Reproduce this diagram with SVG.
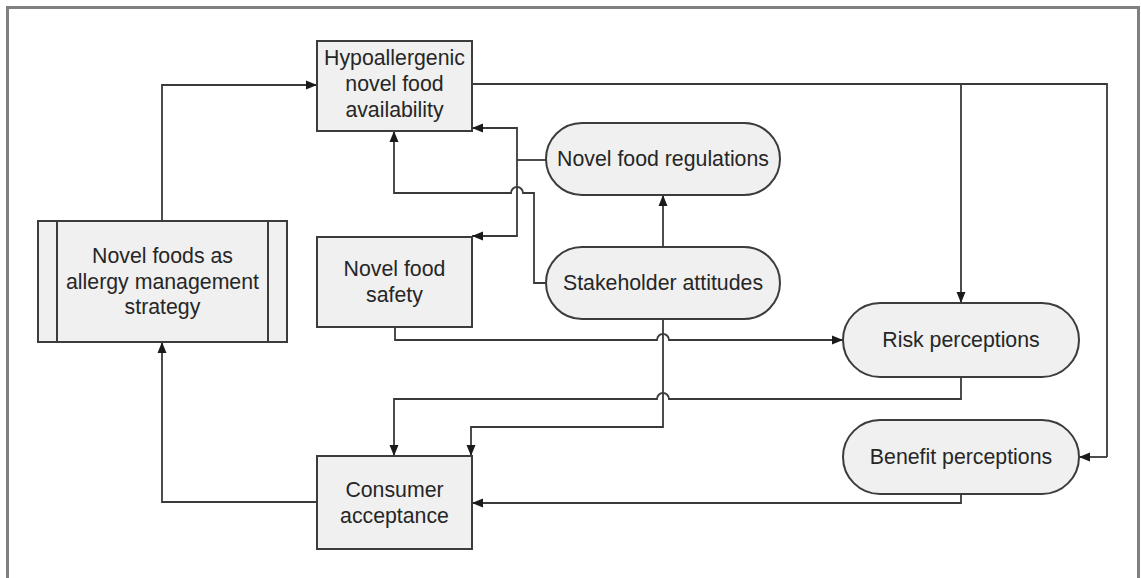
<svg xmlns="http://www.w3.org/2000/svg" width="1141" height="578" viewBox="0 0 1141 578">
<defs>
<marker id="arr" markerUnits="userSpaceOnUse" markerWidth="12" markerHeight="10" refX="11" refY="5" orient="auto">
<path d="M0,0.5 L11,5 L0,9.5 z" fill="#1a1a1a"/>
</marker>
<style>
.box{fill:#f0f0f0;stroke:#3c3c3c;stroke-width:2}
.ln{fill:none;stroke:#3c3c3c;stroke-width:2}
.c{fill:none;stroke:#3a3a3a;stroke-width:1.8;marker-end:url(#arr)}
.cn{fill:none;stroke:#3a3a3a;stroke-width:1.8}
text{font-family:"Liberation Sans",Arial,sans-serif;font-size:21.3px;fill:#262626;text-anchor:middle}
</style>
</defs>
<rect x="0" y="0" width="1141" height="578" fill="#ffffff"/>
<rect x="7.5" y="7.5" width="1131" height="620" fill="none" stroke="#808080" stroke-width="3"/>

<g id="connectors">
<path class="c" d="M162,221 V85 H317"/>
<path class="cn" d="M472,84 H1107 V457"/>
<path class="c" d="M961,84 V303"/>
<path class="c" d="M1107,457 H1079"/>
<path class="cn" d="M546,160 H517"/>
<path class="c" d="M517,160 V128 H472"/>
<path class="c" d="M517,160 V236 H472"/>
<path class="c" d="M546,283 H534 V193 H523 A6,6 0 0 0 511,193 H394 V131"/>
<path class="c" d="M663,247 V195"/>
<path class="c" d="M395,327 V340 H657 A6,6 0 0 1 669,340 H843"/>
<path class="c" d="M663,319 V427 H471 V456"/>
<path class="c" d="M961,377 V399 H669 A6,6 0 0 0 657,399 H394 V456"/>
<path class="c" d="M961,494 V503 H472"/>
<path class="c" d="M317,502 H162 V342"/>
</g>

<g id="hypoallergenic">
<rect class="box" x="317" y="41" width="155" height="90"/>
<text x="394.5" y="65">Hypoallergenic</text>
<text x="394.5" y="91">novel food</text>
<text x="394.5" y="117">availability</text>
</g>

<g id="regulations">
<rect class="box" x="546" y="123" width="234" height="72" rx="36"/>
<text x="663" y="166">Novel food regulations</text>
</g>

<g id="stakeholder">
<rect class="box" x="546" y="247" width="234" height="72" rx="36"/>
<text x="663" y="290">Stakeholder attitudes</text>
</g>

<g id="safety">
<rect class="box" x="317" y="237" width="155" height="90"/>
<text x="394.5" y="276">Novel food</text>
<text x="394.5" y="302">safety</text>
</g>

<g id="strategy">
<rect class="box" x="38" y="221" width="249" height="121"/>
<line class="ln" x1="57" y1="221" x2="57" y2="342"/>
<line class="ln" x1="268" y1="221" x2="268" y2="342"/>
<text x="162.5" y="263">Novel foods as</text>
<text x="162.5" y="289">allergy management</text>
<text x="162.5" y="314">strategy</text>
</g>

<g id="risk">
<rect class="box" x="843" y="303" width="236" height="74" rx="37"/>
<text x="961" y="347">Risk perceptions</text>
</g>

<g id="benefit">
<rect class="box" x="843" y="420" width="236" height="74" rx="37"/>
<text x="961" y="464">Benefit perceptions</text>
</g>

<g id="consumer">
<rect class="box" x="317" y="456" width="155" height="93"/>
<text x="394.5" y="497">Consumer</text>
<text x="394.5" y="523">acceptance</text>
</g>
</svg>
